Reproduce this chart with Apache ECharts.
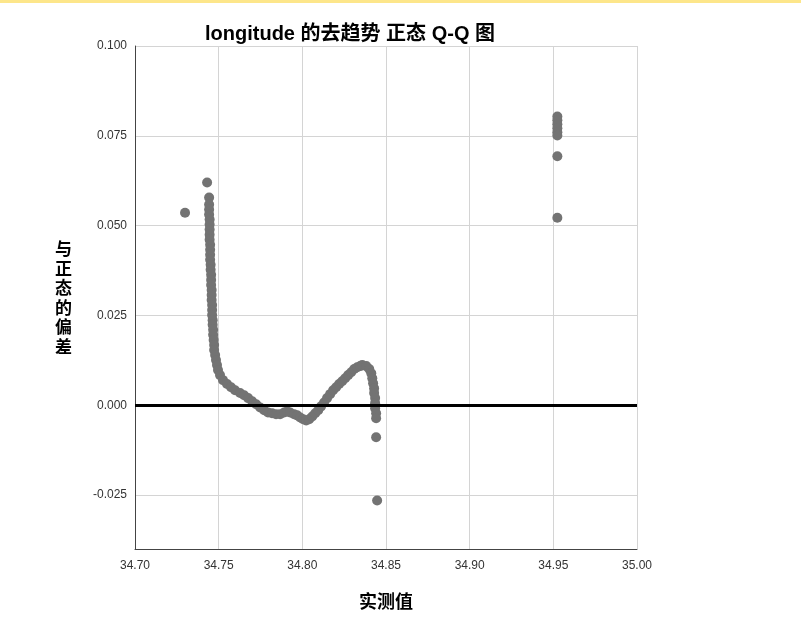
<!DOCTYPE html>
<html>
<head>
<meta charset="utf-8">
<script src="https://cdn.jsdelivr.net/npm/echarts@6/dist/echarts.min.js"></script>
<style>
  html, body { margin: 0; padding: 0; background: #ffffff; }
  #strip { position: absolute; left: 0; top: 0; width: 801px; height: 3px; background: #fde68a; z-index: 5; }
  #chart { width: 801px; height: 628px; }
</style>
</head>
<body>
<div id="strip"></div>
<div id="chart"></div>
<script>
const observedMain = [
  34.7299, 34.7431, 34.7443, 34.7443, 34.7443, 34.7443,
  34.7446, 34.7446, 34.7446, 34.7446, 34.7446,
  34.7449, 34.7449, 34.7449, 34.7449,
  34.7452, 34.7452, 34.7455, 34.7455, 34.7455,
  34.7458, 34.7458, 34.7458, 34.7461, 34.7461, 34.7461,
  34.7464, 34.7464, 34.7467, 34.7467, 34.7470, 34.7473, 34.7473,
  34.7479, 34.7484, 34.7490, 34.7496, 34.7508, 34.7526, 34.7550,
  34.7574, 34.7598, 34.7628, 34.7652, 34.7676, 34.7700, 34.7724,
  34.7748, 34.7772, 34.7795, 34.7819, 34.7843, 34.7867, 34.7891,
  34.7909, 34.7927, 34.7951, 34.7969, 34.7987, 34.8005, 34.8023,
  34.8041, 34.8059, 34.8077, 34.8095, 34.8112, 34.8130, 34.8148,
  34.8166, 34.8184, 34.8202, 34.8220, 34.8238, 34.8256, 34.8274,
  34.8292, 34.8310, 34.8328, 34.8346, 34.8358, 34.8382, 34.8400,
  34.8412, 34.8418, 34.8423, 34.8429, 34.8429, 34.8435, 34.8435,
  34.8435, 34.8441, 34.8441, 34.8441, 34.8447
];
const deviationMain = [
  0.0536, 0.0620, 0.0578, 0.0559, 0.0545, 0.0531,
  0.0517, 0.0503, 0.0489, 0.0475, 0.0461,
  0.0447, 0.0433, 0.0419, 0.0405,
  0.0391, 0.0377, 0.0363, 0.0349, 0.0335,
  0.0321, 0.0307, 0.0293, 0.0279, 0.0265, 0.0251,
  0.0237, 0.0224, 0.0210, 0.0196, 0.0182, 0.0168, 0.0154,
  0.0140, 0.0126, 0.0112, 0.0098, 0.0084, 0.0070, 0.0059,
  0.0050, 0.0042, 0.0034, 0.0028, 0.0020, 0.0011, 0.0003,
  -0.0006, -0.0014, -0.0020, -0.0022, -0.0025, -0.0025, -0.0020,
  -0.0017, -0.0020, -0.0025, -0.0028, -0.0034, -0.0039, -0.0042,
  -0.0039, -0.0031, -0.0022, -0.0014, -0.0003, 0.0008, 0.0020,
  0.0031, 0.0042, 0.0050, 0.0059, 0.0067, 0.0075, 0.0084,
  0.0092, 0.0101, 0.0106, 0.0109, 0.0112, 0.0109, 0.0101,
  0.0089, 0.0075, 0.0061, 0.0047, 0.0034, 0.0020, 0.0006,
  -0.0008, -0.0022, -0.0036, -0.0089, -0.0265
];
const observedHigh = [34.9524, 34.9524, 34.9524, 34.9524, 34.9524, 34.9524, 34.9524, 34.9524];
const deviationHigh = [0.0804, 0.0793, 0.0782, 0.0771, 0.0760, 0.0751, 0.0693, 0.0522];

const xTicks = [34.70, 34.75, 34.80, 34.85, 34.90, 34.95, 35.00];
const yTicks = [-0.025, 0.000, 0.025, 0.050, 0.075, 0.100];

const titleText = 'longitude 的去趋势 正态 Q-Q 图';
const xName = '实测值';
const yName = '与正态的偏差';

const points = observedMain.map((x, i) => [x, deviationMain[i]])
  .concat(observedHigh.map((x, i) => [x, deviationHigh[i]]));

const chart = echarts.init(document.getElementById('chart'), null, { renderer: 'canvas' });
const labelFont = { fontFamily: 'Liberation Sans, Arial, sans-serif', fontSize: 12, color: '#333333' };
const cjkFont = 'Noto Sans CJK SC';

chart.setOption({
  backgroundColor: '#ffffff',
  animation: false,
  title: {
    text: titleText,
    left: 345,
    top: 19,
    textAlign: 'center',
    textStyle: { fontFamily: 'Liberation Sans, ' + cjkFont, fontSize: 20, fontWeight: 'bold', color: '#000000' }
  },
  grid: { left: 135, right: 164, top: 46, bottom: 79, containLabel: false },
  xAxis: {
    type: 'value',
    min: 34.70,
    max: 35.00,
    interval: 0.05,
    name: xName,
    nameLocation: 'middle',
    nameGap: 43,
    nameTextStyle: { fontFamily: cjkFont, fontSize: 18, color: '#000000', fontWeight: 'bold', verticalAlign: 'top' },
    axisLine: { show: true, onZero: false, lineStyle: { color: '#444444', width: 1 } },
    axisTick: { show: false },
    axisLabel: Object.assign({ margin: 11, formatter: v => v.toFixed(2), customValues: xTicks }, labelFont),
    splitLine: { show: true, lineStyle: { color: '#d4d4d4', width: 1 } }
  },
  yAxis: {
    type: 'value',
    min: -0.04,
    max: 0.10,
    name: yName.split('').join('\n'),
    nameLocation: 'middle',
    nameRotate: 0,
    nameGap: 63,
    nameTextStyle: { fontFamily: cjkFont, fontSize: 17, lineHeight: 19.6, color: '#000000', fontWeight: 'bold' },
    axisLine: { show: true, onZero: false, lineStyle: { color: '#444444', width: 1 } },
    axisTick: { show: false, customValues: yTicks },
    axisLabel: Object.assign({ margin: 8, formatter: v => v.toFixed(3), customValues: yTicks }, labelFont),
    splitLine: { show: true, lineStyle: { color: '#d4d4d4', width: 1 } }
  },
  series: [
    {
      type: 'scatter',
      data: points,
      symbol: 'circle',
      symbolSize: 10,
      itemStyle: { color: '#737373', opacity: 1 },
      silent: true,
      z: 2
    },
    {
      type: 'line',
      data: [],
      silent: true,
      z: 5,
      markLine: {
        silent: true,
        symbol: ['none', 'none'],
        label: { show: false },
        lineStyle: { color: '#000000', width: 3, type: 'solid' },
        data: [{ yAxis: 0 }],
        animation: false
      }
    }
  ]
});
</script>
</body>
</html>
